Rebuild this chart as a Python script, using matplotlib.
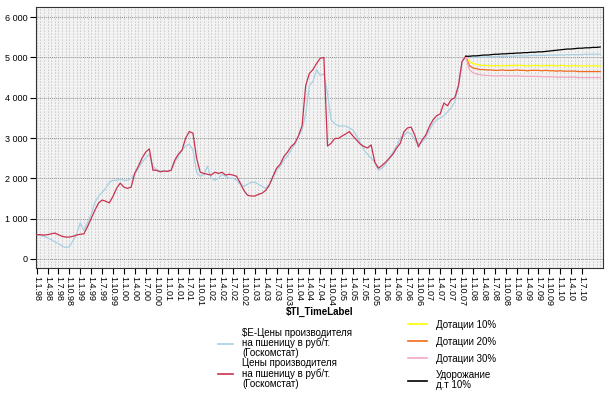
import numpy as np
import matplotlib
matplotlib.use("Agg")
import matplotlib.pyplot as plt
from matplotlib.lines import Line2D

plt.rcParams['font.family'] = ['Liberation Sans', 'DejaVu Sans']

# monthly values, index 0 = Jan 1998
red = [600, 600, 590, 600, 620, 640, 600, 560, 540, 540,
       560, 590, 610, 620, 800, 1000, 1200, 1380, 1460, 1430,
       1390, 1550, 1750, 1880, 1780, 1750, 1780, 2130, 2300, 2500,
       2650, 2730, 2200, 2200, 2160, 2180, 2170, 2200, 2450, 2600,
       2700, 3000, 3160, 3120, 2500, 2150, 2120, 2100, 2080, 2150,
       2120, 2150, 2080, 2100, 2080, 2050, 1880, 1700, 1580, 1560,
       1560, 1600, 1630, 1700, 1830, 2050, 2250, 2350, 2540, 2650,
       2790, 2870, 3050, 3300, 4300, 4600, 4700, 4850, 4980, 5000,
       2800, 2870, 2990, 2990, 3050, 3100, 3160, 3050, 2950, 2850,
       2790, 2750, 2830, 2400, 2250, 2320, 2400, 2500, 2600, 2750,
       2870, 3150, 3250, 3270, 3070, 2780, 2950, 3070, 3280, 3450,
       3550, 3600, 3870, 3800, 3950, 4000, 4300, 4900, 5030]

blue = [600, 580, 560, 520, 480, 420, 380, 320, 280, 300,
        450, 600, 900, 700, 900, 1100, 1400, 1550, 1650, 1750,
        1900, 1950, 1950, 1980, 1950, 1950, 2000, 2100, 2250, 2400,
        2500, 2600, 2300, 2200, 2180, 2180, 2180, 2200, 2400, 2550,
        2700, 2800, 2850, 2700, 2150, 2050, 2100, 2300, 2000, 1950,
        2000, 2100, 2050, 2000, 2000, 1950, 1850, 1800, 1850, 1900,
        1900, 1850, 1800, 1750, 1850, 2000, 2200, 2300, 2450, 2550,
        2700, 2850, 3050, 3200, 3600, 4300, 4400, 4700, 4550, 4600,
        4100, 3450, 3350, 3300, 3300, 3300, 3250, 3200, 3050, 2900,
        2700, 2600, 2500, 2400, 2200, 2250, 2350, 2500, 2650, 2800,
        3000, 3050, 3150, 3100, 2950, 2850, 2900, 3000, 3200, 3350,
        3450, 3500, 3550, 3650, 3750, 3900, 4270, 4900, 5000]

# forecast part, index 118 .. 155
blue_fc = [5030, 5010, 5000, 5000, 5010, 5010, 5010, 5020, 5020, 5020,
           5030, 5030, 5030, 5030, 5040, 5040, 5040, 5040, 5050, 5050,
           5050, 5050, 5050, 5060, 5060, 5060, 5060, 5060, 5070, 5070,
           5070, 5070, 5070, 5080, 5080, 5080, 5080, 5080]
black = [5030, 5030, 5040, 5040, 5050, 5060, 5060, 5070, 5080, 5080,
         5090, 5090, 5100, 5100, 5110, 5110, 5120, 5120, 5130, 5130,
         5140, 5140, 5150, 5160, 5170, 5180, 5190, 5200, 5210, 5210,
         5220, 5230, 5230, 5240, 5240, 5250, 5250, 5260]
yellow = [5030, 4900, 4850, 4830, 4810, 4800, 4800, 4790, 4800, 4800,
          4790, 4800, 4800, 4800, 4810, 4800, 4800, 4790, 4800, 4800,
          4800, 4790, 4800, 4800, 4800, 4790, 4800, 4800, 4790, 4790,
          4800, 4790, 4790, 4790, 4790, 4790, 4790, 4790]
orange = [5030, 4800, 4740, 4720, 4700, 4700, 4690, 4690, 4680, 4680,
          4690, 4680, 4680, 4680, 4690, 4680, 4680, 4670, 4680, 4680,
          4680, 4670, 4680, 4670, 4670, 4660, 4670, 4660, 4660, 4660,
          4660, 4650, 4650, 4650, 4650, 4650, 4650, 4650]
pink = [5030, 4700, 4620, 4590, 4570, 4560, 4550, 4550, 4540, 4540,
        4550, 4540, 4540, 4540, 4540, 4540, 4530, 4530, 4530, 4530,
        4530, 4520, 4520, 4520, 4520, 4510, 4510, 4510, 4510, 4510,
        4510, 4500, 4500, 4500, 4500, 4500, 4500, 4500]

tick_labels = ["1.%d.%02d" % (m, y % 100) for y in range(1998, 2011) for m in (1, 4, 7, 10)][:51]

c_blue = '#a9d0e4'
c_red = '#c8324f'
c_yel = '#ffff00'
c_ora = '#f26a1b'
c_pink = '#f4a6c6'

fig = plt.figure(figsize=(6.08, 3.96), dpi=100)
ax = fig.add_axes([0.059, 0.323, 0.933, 0.659])
ax.set_facecolor('#f2f2f2')

x_hist = np.arange(len(red))
x_fc = np.arange(118, 118 + len(black))

# dotted texture of the plot background
for v in np.arange(0, 156, 1):
    ax.axvline(v, color='#a0a0a0', lw=0.6, ls=(0, (1, 2.6)), zorder=0)
for h in range(0, 7000, 1000):
    ax.axhline(h, color='#909090', lw=0.7, ls=(0, (1, 1)), zorder=0)

ax.plot(x_hist, blue, color=c_blue, lw=0.9, zorder=2)
ax.plot(x_fc, blue_fc, color=c_blue, lw=0.9, zorder=2)
ax.plot(x_hist, red, color=c_red, lw=0.9, zorder=3)
ax.plot(x_fc, yellow, color=c_yel, lw=0.9, zorder=3)
ax.plot(x_fc, orange, color=c_ora, lw=0.9, zorder=3)
ax.plot(x_fc, pink, color=c_pink, lw=0.9, zorder=3)
ax.plot(x_fc, black, color='black', lw=0.9, zorder=4)

ax.set_xlim(-0.2, 155.8)
ax.set_ylim(-230, 6250)
ax.set_yticks(range(0, 7000, 1000))
ax.set_yticklabels(["0", "1 000", "2 000", "3 000", "4 000", "5 000", "6 000"], fontsize=6.5)
ax.set_xticks(np.arange(0, 153, 3))
ax.set_xticklabels(tick_labels, rotation=270, fontsize=6.5)
ax.tick_params(axis='both', length=4, width=0.8, pad=2)
for s in ax.spines.values():
    s.set_linewidth(0.8)
    s.set_color('#333333')
ax.set_xlabel(r"\$TI_TimeLabel", fontsize=7, fontweight='bold', labelpad=0)

h1 = [Line2D([], [], color=c_blue, lw=1.2), Line2D([], [], color=c_red, lw=1.2)]
l1 = ["\\$E-Цены производителя\nна пшеницу в руб/т.\n(Госкомстат)",
      "Цены производителя\nна пшеницу в руб/т.\n(Госкомстат)"]
h2 = [Line2D([], [], color=c_yel, lw=1.2), Line2D([], [], color=c_ora, lw=1.2),
      Line2D([], [], color=c_pink, lw=1.2), Line2D([], [], color='black', lw=1.2)]
l2 = ["Дотации 10%", "Дотации 20%", "Дотации 30%", "Удорожание\nд.т 10%"]

leg1 = fig.legend(h1, l1, loc='upper left', bbox_to_anchor=(214 / 608, 1 - 324 / 396),
                  frameon=False, fontsize=7, handlelength=1.6, handletextpad=0.9,
                  labelspacing=0.0, borderaxespad=0)
leg2 = fig.legend(h2, l2, loc='upper left', bbox_to_anchor=(404 / 608, 1 - 316 / 396),
                  frameon=False, fontsize=7, handlelength=2.0, handletextpad=0.9,
                  labelspacing=0.7, borderaxespad=0)
for t in leg1.get_texts() + leg2.get_texts():
    t.set_linespacing(1.0)

fig.savefig("out.png", dpi=100)
